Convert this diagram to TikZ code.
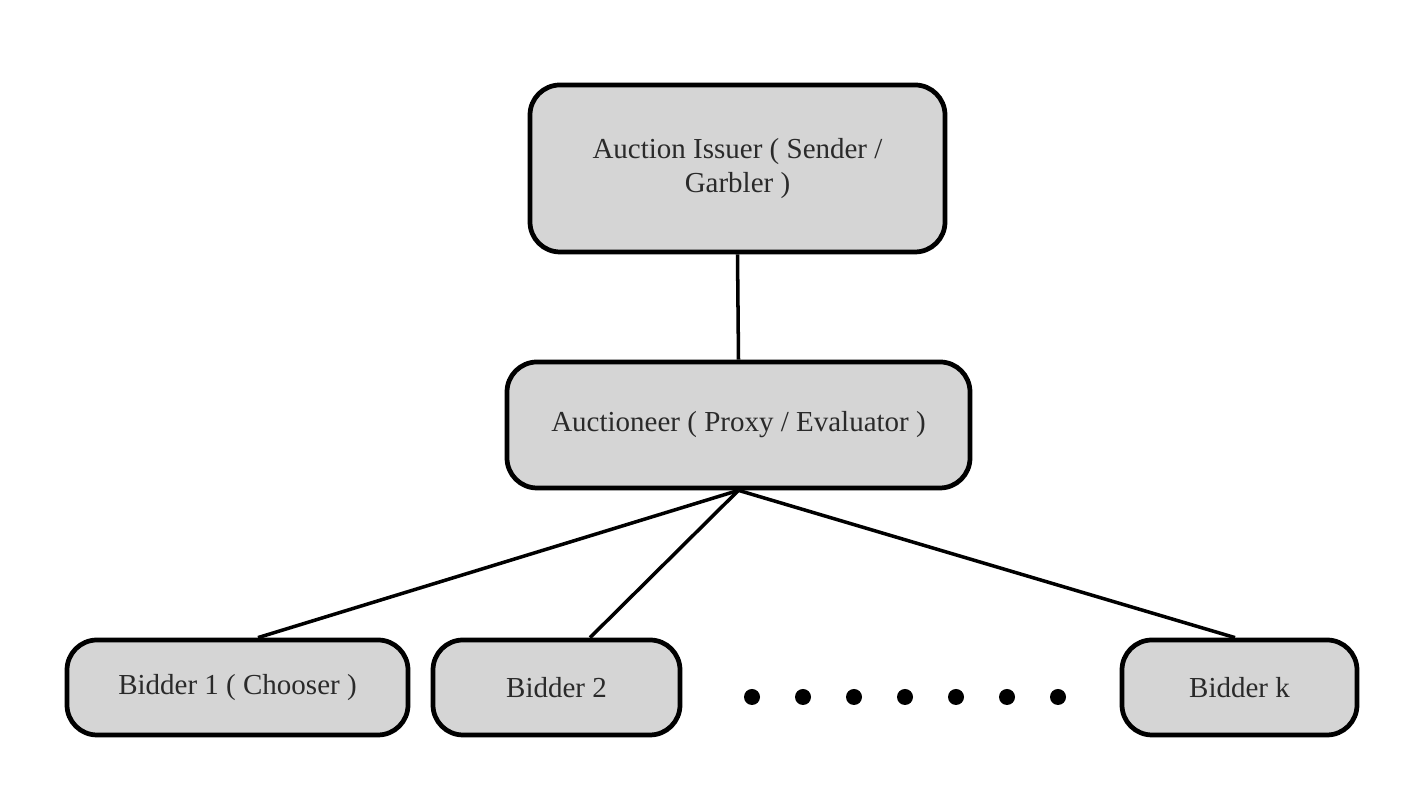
\documentclass[tikz,border=0pt]{standalone}
\usepackage{fontspec}
\setmainfont{Liberation Serif}
\usepackage{xcolor}
\usetikzlibrary{positioning,calc}

\definecolor{boxgray}{HTML}{D5D5D5}
\definecolor{txtgray}{HTML}{2A2A2A}

\begin{document}
\begin{tikzpicture}[
    party/.style={draw=black, line width=2.7pt, fill=boxgray, rounded corners=0.6cm,
        align=center, text=txtgray, font=\fontsize{16.5}{19.5}\selectfont, inner sep=0pt},
    link/.style={line width=2pt}
]
    \useasboundingbox (0,0) rectangle (28.36,15.8);

    % Issuer and auctioneer
    \node[party, minimum width=8.3cm, minimum height=3.34cm] (issuer) at (14.75,12.43)
        {Auction Issuer ( Sender /\\ Garbler )};
    \node[party, minimum width=9.26cm, minimum height=2.52cm] (auctioneer) at (14.77,7.3)
        {Auctioneer ( Proxy / Evaluator )};

    % Bidders
    \node[party, minimum width=6.82cm, minimum height=1.9cm] (bidder1) at (4.75,2.05)
        {Bidder 1 ( Chooser )};
    \node[party, minimum width=4.94cm, minimum height=1.9cm] (bidder2) at (11.13,2.05)
        {Bidder 2};
    \node[party, minimum width=4.7cm, minimum height=1.9cm] (bidderk) at (24.79,2.05)
        {Bidder k};

    % Dots
    \foreach \i in {0,...,6}
        \fill (15.04+\i*1.02,1.86) circle (0.16);

    % Links
    \draw[link] (issuer.south) -- (auctioneer.north);
    \draw[link] (auctioneer.south) -- ($(bidder1.north)+(0.41,0)$);
    \draw[link] (auctioneer.south) -- ($(bidder2.north)+(0.67,0)$);
    \draw[link] (auctioneer.south) -- ($(bidderk.north)+(-0.09,0)$);
\end{tikzpicture}
\end{document}
